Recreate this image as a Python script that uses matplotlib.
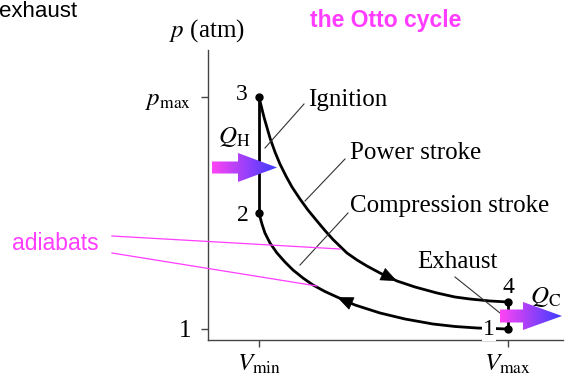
import matplotlib
matplotlib.use("Agg")
import matplotlib.pyplot as plt
import numpy as np
from matplotlib.patches import Polygon
from matplotlib.colors import LinearSegmentedColormap

plt.rcParams['mathtext.fontset'] = 'stix'
plt.rcParams['font.family'] = ['Liberation Serif', 'DejaVu Serif']

# ---- data ----
V_min, V_max = 1.0, 4.0
p_one, p_max = 1.0, 12.0
# power stroke (3 -> 4)
V_upper = [1.000, 1.060, 1.133, 1.193, 1.253, 1.325, 1.398, 1.494, 1.590, 1.699, 1.795, 1.892,
           2.060, 2.181, 2.301, 2.458, 2.663, 2.880, 3.145, 3.361, 3.542, 3.783, 4.000]
p_upper = [12.000, 11.052, 10.056, 9.393, 8.824, 8.255, 7.733, 7.164, 6.642, 6.121, 5.670, 5.244,
           4.604, 4.272, 3.987, 3.655, 3.276, 2.991, 2.707, 2.517, 2.422, 2.328, 2.280]
# compression stroke (1 -> 2)
V_lower = [4.000, 3.627, 3.361, 3.096, 2.759, 2.458, 2.157, 1.940, 1.795, 1.651, 1.530, 1.410,
           1.313, 1.217, 1.133, 1.072, 1.036, 1.000]
p_lower = [1.000, 1.047, 1.119, 1.237, 1.474, 1.759, 2.138, 2.517, 2.778, 3.086, 3.418, 3.798,
           4.177, 4.604, 5.078, 5.552, 5.979, 6.500]
# states 1..4
state_labels = ['1', '2', '3', '4']
state_V = [4.0, 1.0, 1.0, 4.0]
state_p = [1.0, 6.5, 12.0, 2.28]
x_tick_labels = [r'$V_{\mathrm{min}}$', r'$V_{\mathrm{max}}$']
y_tick_labels = ['1', r'$p_{\mathrm{max}}$']

W, H = 574, 383
fig = plt.figure(figsize=(W / 100, H / 100), dpi=100)
ax = fig.add_axes([208 / W, 1 - 340 / H, (563 - 208) / W, (340 - 50) / H])
ax.set_xlim(0.386, 4.663)
ax.set_ylim(0.478, 14.23)
for s in ['top', 'right']:
    ax.spines[s].set_visible(False)
for s in ['left', 'bottom']:
    ax.spines[s].set_color('#444444')
    ax.spines[s].set_linewidth(1.0)
ax.set_xticks([V_min, V_max])
ax.set_xticklabels(x_tick_labels)
ax.set_yticks([p_one, p_max])
ax.set_yticklabels(y_tick_labels)
ax.tick_params(direction='out', length=5, width=1, color='#444444',
               labelsize=18, pad=4)
ax.tick_params(axis='y', pad=7)

lw = 2.0
ax.plot(V_upper, p_upper, color='black', lw=lw, solid_capstyle='round',
        solid_joinstyle='round')
ax.plot(V_lower, p_lower, color='black', lw=lw, solid_capstyle='round',
        solid_joinstyle='round')
ax.plot([state_V[1], state_V[2]], [state_p[1], state_p[2]], color='black', lw=lw)
ax.plot([state_V[3], state_V[0]], [state_p[3], state_p[0]], color='black', lw=lw)
ax.plot(state_V, state_p, 'o', color='black', ms=5, zorder=5)

# direction arrowheads
def head(xs, ys, i):
    x1, y1 = xs[i], ys[i]
    x0, y0 = xs[i - 1], ys[i - 1]
    ax.annotate('', xy=(x1, y1), xytext=(x1 - 0.05 * (x1 - x0), y1 - 0.05 * (y1 - y0)),
                arrowprops=dict(arrowstyle='-|>,head_length=0.6,head_width=0.25',
                                color='black', lw=0.5, mutation_scale=18,
                                shrinkA=0, shrinkB=0))
head(V_upper, p_upper, 16)
head(V_lower, p_lower, 7)

# ---- overlay in pixel coords for annotations ----
ov = fig.add_axes([0, 0, 1, 1], zorder=10)
ov.set_xlim(0, W)
ov.set_ylim(H, 0)
ov.axis('off')

fs = 18
mag = '#ff3cff'
ov.text(-1, 17, 'exhaust', family='Liberation Sans', fontsize=16, va='baseline')
ov.text(310, 27, 'the Otto cycle', family='Liberation Sans', fontsize=16.5,
        fontweight='bold', color=mag, va='baseline')
ov.text(12, 250, 'adiabats', family='Liberation Sans', fontsize=16.5, color=mag,
        va='baseline')
ov.text(207, 37, r'$p$ (atm)', fontsize=fs, ha='center', va='baseline')
ov.text(308, 106, 'Ignition', fontsize=fs, va='baseline')
ov.text(350, 159, 'Power stroke', fontsize=fs, va='baseline')
ov.text(350, 212, 'Compression stroke', fontsize=fs, va='baseline')
ov.text(417, 268, 'Exhaust', fontsize=fs, va='baseline')
ov.text(242, 100, '3', fontsize=17, ha='center', va='baseline')
ov.text(243, 221, '2', fontsize=17, ha='center', va='baseline')
ov.text(508, 293, '4', fontsize=17, ha='center', va='baseline')
ov.text(489, 335, '1', fontsize=17, ha='center', va='baseline',
        bbox=dict(facecolor='white', edgecolor='none', pad=0.5))
ov.text(234, 137, r'$Q_{\mathrm{H}}$', fontsize=fs, ha='center', va='center')
ov.text(546, 297, r'$Q_{\mathrm{C}}$', fontsize=fs, ha='center', va='center')

# leader lines
lc = '#333333'
for (x0, y0, x1, y1) in [(265, 148, 304, 104), (305, 201, 345, 159),
                         (300, 265, 348, 213), (455, 277, 500, 313)]:
    ov.plot([x0, x1], [y0, y1], color=lc, lw=0.8)
for (x0, y0, x1, y1) in [(112, 236, 340, 249), (112, 253, 317, 286)]:
    ov.plot([x0, x1], [y0, y1], color=mag, lw=0.9)

# gradient arrows
cmap = LinearSegmentedColormap.from_list('mb', ['#ff44f4', '#3c3cff'])
def garrow(x0, xh, x1, yc, bh, hh):
    verts = [(x0, yc - bh), (xh, yc - bh), (xh, yc - hh), (x1, yc),
             (xh, yc + hh), (xh, yc + bh), (x0, yc + bh)]
    poly = Polygon(verts, closed=True, facecolor='none', edgecolor='none')
    ov.add_patch(poly)
    grad = np.linspace(0, 1, 256).reshape(1, -1)
    im = ov.imshow(grad, cmap=cmap, extent=[x0, x1, yc + hh, yc - hh],
                   aspect='auto', interpolation='bilinear', zorder=3)
    im.set_clip_path(poly)
garrow(212, 238, 277, 167.5, 6, 14.5)
garrow(500, 523, 562, 316, 6.5, 14)
ov.set_xlim(0, W)
ov.set_ylim(H, 0)

fig.savefig('out.png', dpi=100)
